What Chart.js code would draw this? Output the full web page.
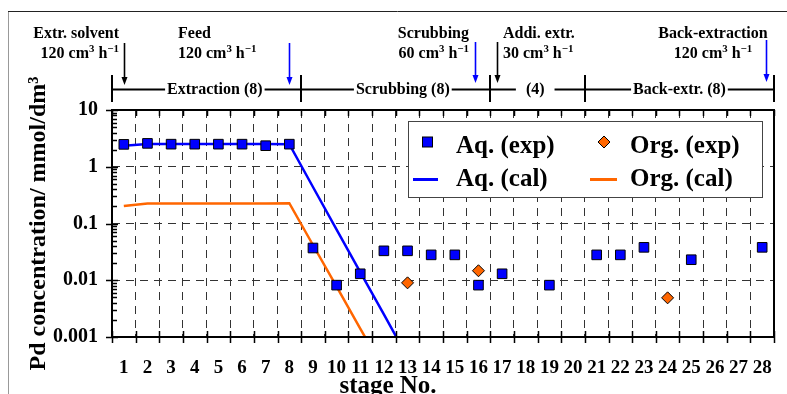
<!DOCTYPE html>
<html lang="en">
<head>
<meta charset="UTF-8">
<title>Pd concentration profile</title>
<script src="https://cdn.jsdelivr.net/npm/chart.js"></script>
<style>
  body { margin: 0; background: #fff; }
  canvas { display: block; }
</style>
</head>
<body>
<canvas id="chart" width="787" height="394"></canvas>
<script>
// stage numbers along the bottom axis
const stages = [1, 2, 3, 4, 5, 6, 7, 8, 9, 10, 11, 12, 13, 14, 15, 16, 17, 18, 19, 20, 21, 22, 23, 24, 25, 26, 27, 28];
const yTicks = [0.001, 0.01, 0.1, 1, 10];
const yTickLabels = ['0.001', '0.01', '0.1', '1', '10'];

// measured Pd, aqueous phase
const aqExpStages = [1, 2, 3, 4, 5, 6, 7, 8, 9, 10, 11, 12, 13, 14, 15, 16, 17, 19, 21, 22, 23, 25, 28];
const aqExp = [2.48, 2.58, 2.5, 2.5, 2.5, 2.5, 2.35, 2.5, 0.037, 0.0082, 0.013, 0.033, 0.033, 0.028, 0.028, 0.0082, 0.013, 0.0082, 0.028, 0.028, 0.038, 0.023, 0.038];

// measured Pd, organic phase
const orgExpStages = [13, 16, 24];
const orgExp = [0.009, 0.0147, 0.0049];

// calculated profiles
const aqCalStages = [1, 2, 3, 4, 5, 6, 7, 8, 9, 10, 11, 12, 13];
const aqCal = [2.35, 2.52, 2.52, 2.52, 2.52, 2.52, 2.52, 2.5, 0.44, 0.078, 0.0139, 0.0025, 0.00044];
const orgCalStages = [1, 2, 3, 4, 5, 6, 7, 8, 9, 10, 11, 12];
const orgCal = [0.203, 0.226, 0.226, 0.226, 0.226, 0.226, 0.226, 0.228, 0.0418, 0.0077, 0.00141, 0.00026];

// sections of the cascade
const sectionBounds = [0.5, 8.5, 16.5, 20.5, 28.5];
const sectionNames = ['Extraction (8)', 'Scrubbing (8)', '(4)', 'Back-extr. (8)'];
const sectionNameAt = [4.85, 12.8, 18.4, 24.5];
const sectionGaps = [2, 2, 10, 2];

// inlet streams
const feedNames = ['Extr. solvent', 'Feed', 'Scrubbing', 'Addi. extr.', 'Back-extraction'];
const feedFlows = ['120 cm^3 h^−1', '120 cm^3 h^−1', '60 cm^3 h^−1', '30 cm^3 h^−1', '120 cm^3 h^−1'];
const feedStages = [1, 8, 15.85, 16.8, 28.15];
const feedColors = ['#000000', '#0000ff', '#0000ff', '#000000', '#0000ff'];

const SERIF = '"Liberation Serif", "Times New Roman", serif';
Chart.defaults.font.family = SERIF;
Chart.defaults.color = '#000';

function pts(xs, ys) {
  return xs.map((s, i) => ({ x: s, y: ys[i] }));
}

// text with ^superscript runs
function drawRich(ctx, text, x, y, align, size) {
  const parts = text.split(/(\^\S+)/).filter(p => p).map(p =>
    p[0] === '^' ? { t: p.slice(1), sup: true } : { t: p, sup: false });
  let w = 0;
  parts.forEach(p => {
    ctx.font = 'bold ' + (p.sup ? size * 0.68 : size) + 'px ' + SERIF;
    p.w = ctx.measureText(p.t).width;
    w += p.w;
  });
  let cx = align === 'right' ? x - w : align === 'center' ? x - w / 2 : x;
  parts.forEach(p => {
    ctx.font = 'bold ' + (p.sup ? size * 0.68 : size) + 'px ' + SERIF;
    ctx.fillText(p.t, cx, p.sup ? y - size * 0.38 : y);
    cx += p.w;
  });
}

function arrow(ctx, xp, y0, y1, color) {
  ctx.strokeStyle = color;
  ctx.fillStyle = color;
  ctx.lineWidth = 1.6;
  ctx.beginPath();
  ctx.moveTo(xp, y0);
  ctx.lineTo(xp, y1 - 6);
  ctx.stroke();
  ctx.beginPath();
  ctx.moveTo(xp - 3, y1 - 8);
  ctx.lineTo(xp + 3, y1 - 8);
  ctx.lineTo(xp, y1);
  ctx.closePath();
  ctx.fill();
}

const decorations = {
  id: 'decorations',
  afterDraw(chart) {
    const { ctx, chartArea: a, scales: { x, y } } = chart;
    ctx.save();

    // outer frame
    ctx.lineWidth = 1;
    ctx.strokeStyle = '#999';
    ctx.beginPath(); ctx.moveTo(8.5, 11); ctx.lineTo(8.5, 394); ctx.stroke();
    ctx.strokeStyle = '#222';
    ctx.beginPath(); ctx.moveTo(8, 11.5); ctx.lineTo(787, 11.5); ctx.stroke();

    // plot frame
    ctx.strokeStyle = '#000';
    ctx.lineWidth = 2;
    ctx.strokeRect(a.left, a.top, a.right - a.left, a.bottom - a.top);

    // stage ticks, bottom (crossing) and top (inward)
    ctx.lineWidth = 1.5;
    ctx.beginPath();
    for (let i = 0; i <= stages.length; i++) {
      const xp = Math.round(x.getPixelForValue(stages[0] - 0.5 + i)) + 0.5;
      ctx.moveTo(xp, a.bottom - 6); ctx.lineTo(xp, a.bottom + 6);
      ctx.moveTo(xp, a.top); ctx.lineTo(xp, a.top + 6);
    }
    // log ticks on the left axis
    yTicks.forEach(v => {
      const yp = Math.round(y.getPixelForValue(v)) + 0.5;
      ctx.moveTo(a.left - 6, yp); ctx.lineTo(a.left + 6, yp);
    });
    for (let d = 0; d < yTicks.length - 1; d++) {
      for (let m = 2; m < 10; m++) {
        const yp = Math.round(y.getPixelForValue(yTicks[d] * m)) + 0.5;
        ctx.moveTo(a.left, yp); ctx.lineTo(a.left + 5, yp);
      }
    }
    ctx.stroke();

    // x axis title
    ctx.fillStyle = '#000';
    ctx.textAlign = 'center';
    ctx.textBaseline = 'alphabetic';
    ctx.font = 'bold 25px ' + SERIF;
    ctx.fillText('stage No.', 388, 393);

    // section bar above the plot
    const barY = 89.5;
    ctx.font = 'bold 16px ' + SERIF;
    ctx.lineWidth = 2;
    ctx.strokeStyle = '#000';
    sectionNames.forEach((name, i) => {
      const l = x.getPixelForValue(sectionBounds[i]);
      const r = x.getPixelForValue(sectionBounds[i + 1]);
      const c = x.getPixelForValue(sectionNameAt[i]);
      const w = ctx.measureText(name).width;
      ctx.beginPath();
      ctx.moveTo(l, barY); ctx.lineTo(c - w / 2 - sectionGaps[i], barY);
      ctx.moveTo(c + w / 2 + sectionGaps[i], barY); ctx.lineTo(r, barY);
      ctx.stroke();
      ctx.textAlign = 'center';
      ctx.fillText(name, c, 93.5);
    });
    sectionBounds.forEach(b => {
      const xp = Math.round(x.getPixelForValue(b));
      ctx.beginPath(); ctx.moveTo(xp, 75); ctx.lineTo(xp, 102); ctx.stroke();
    });

    // inlet arrows and labels
    const arrowTop = [43, 43, 42, 42, 40];
    const arrowTip = [85, 85, 83, 83, 82];
    const noteX = [119, 178, 469, 503, 713];
    const noteAlign = ['right', 'left', 'right', 'left', 'center'];
    feedStages.forEach((s, i) => {
      arrow(ctx, Math.round(x.getPixelForValue(s)) + 0.5, arrowTop[i], arrowTip[i], feedColors[i]);
      ctx.fillStyle = '#000';
      ctx.textAlign = 'left';
      drawRich(ctx, feedNames[i], noteX[i], 38, noteAlign[i], 16);
      drawRich(ctx, feedFlows[i], noteX[i], 58, noteAlign[i], 16);
    });

    // legend box
    const box = { l: 408.5, t: 121.5, r: 762.5, b: 197.5 };
    ctx.fillStyle = '#fff';
    ctx.fillRect(box.l, box.t, box.r - box.l, box.b - box.t);
    ctx.strokeStyle = '#444';
    ctx.lineWidth = 1;
    ctx.strokeRect(box.l, box.t, box.r - box.l, box.b - box.t);

    const ds = chart.data.datasets;
    // square
    ctx.lineWidth = 1;
    ctx.strokeStyle = '#000';
    ctx.fillStyle = ds[0].pointBackgroundColor;
    ctx.fillRect(422.5, 137, 10, 10);
    ctx.strokeRect(422.5, 137, 10, 10);
    // diamond
    ctx.fillStyle = ds[1].pointBackgroundColor;
    ctx.beginPath();
    ctx.moveTo(604, 136); ctx.lineTo(610, 142); ctx.lineTo(604, 148); ctx.lineTo(598, 142);
    ctx.closePath(); ctx.fill(); ctx.stroke();
    // lines
    ctx.lineWidth = 3;
    ctx.strokeStyle = ds[2].borderColor;
    ctx.beginPath(); ctx.moveTo(413, 179.5); ctx.lineTo(438, 179.5); ctx.stroke();
    ctx.strokeStyle = ds[3].borderColor;
    ctx.beginPath(); ctx.moveTo(590, 179.5); ctx.lineTo(617, 179.5); ctx.stroke();

    ctx.fillStyle = '#000';
    ctx.textAlign = 'left';
    ctx.font = 'bold 25px ' + SERIF;
    ctx.fillText(ds[0].label, 456, 153);
    ctx.fillText(ds[1].label, 630, 153);
    ctx.fillText(ds[2].label, 456, 186);
    ctx.fillText(ds[3].label, 630, 186);

    ctx.restore();
  }
};

new Chart(document.getElementById('chart'), {
  type: 'scatter',
  data: {
    datasets: [
      {
        label: 'Aq. (exp)',
        data: pts(aqExpStages, aqExp),
        pointStyle: 'rect',
        pointRadius: 6.8,
        pointBackgroundColor: '#0000ff',
        pointBorderColor: '#000',
        pointBorderWidth: 1,
        showLine: false
      },
      {
        label: 'Org. (exp)',
        data: pts(orgExpStages, orgExp),
        pointStyle: 'rectRot',
        pointRadius: 6,
        pointBackgroundColor: '#ff6600',
        pointBorderColor: '#000',
        pointBorderWidth: 1,
        showLine: false
      },
      {
        label: 'Aq. (cal)',
        data: pts(aqCalStages, aqCal),
        showLine: true,
        pointRadius: 0,
        borderColor: '#0000ff',
        borderWidth: 2.5,
        tension: 0
      },
      {
        label: 'Org. (cal)',
        data: pts(orgCalStages, orgCal),
        showLine: true,
        pointRadius: 0,
        borderColor: '#ff6600',
        borderWidth: 2.5,
        tension: 0
      }
    ]
  },
  options: {
    responsive: false,
    animation: false,
    devicePixelRatio: 1,
    layout: { padding: { left: 24, right: 13, top: 110, bottom: 0 } },
    plugins: {
      legend: { display: false },
      tooltip: { enabled: false }
    },
    scales: {
      x: {
        type: 'linear',
        min: stages[0] - 0.5,
        max: stages[stages.length - 1] + 0.5,
        afterBuildTicks: s => { s.ticks = stages.map(v => ({ value: v })); },
        // fixed height; labels fit inside the side margins
        afterFit: s => { s.height = 57; s.paddingLeft = 0; s.paddingRight = 0; },
        grid: { offset: true, color: '#333', lineWidth: 1, drawTicks: false },
        border: { display: false, dash: [8, 6] },
        ticks: {
          autoSkip: false,
          maxRotation: 0,
          padding: 20,
          color: '#000',
          font: { size: 19, weight: 'bold' },
          callback: (v, i) => String(stages[i])
        }
      },
      y: {
        type: 'logarithmic',
        min: yTicks[0],
        max: yTicks[yTicks.length - 1],
        afterBuildTicks: s => { s.ticks = yTicks.map(v => ({ value: v })); },
        afterFit: s => { s.width = 88; },
        grid: { color: '#333', lineWidth: 1, drawTicks: false },
        border: { display: false, dash: [8, 6] },
        ticks: {
          padding: 14,
          color: '#000',
          font: { size: 20, weight: 'bold' },
          callback: (v, i) => yTickLabels[i]
        },
        title: {
          display: true,
          text: 'Pd concentration/ mmol/dm³',
          color: '#000',
          padding: 0,
          font: { size: 24, weight: 'bold' }
        }
      }
    }
  },
  plugins: [decorations]
});
</script>
</body>
</html>
